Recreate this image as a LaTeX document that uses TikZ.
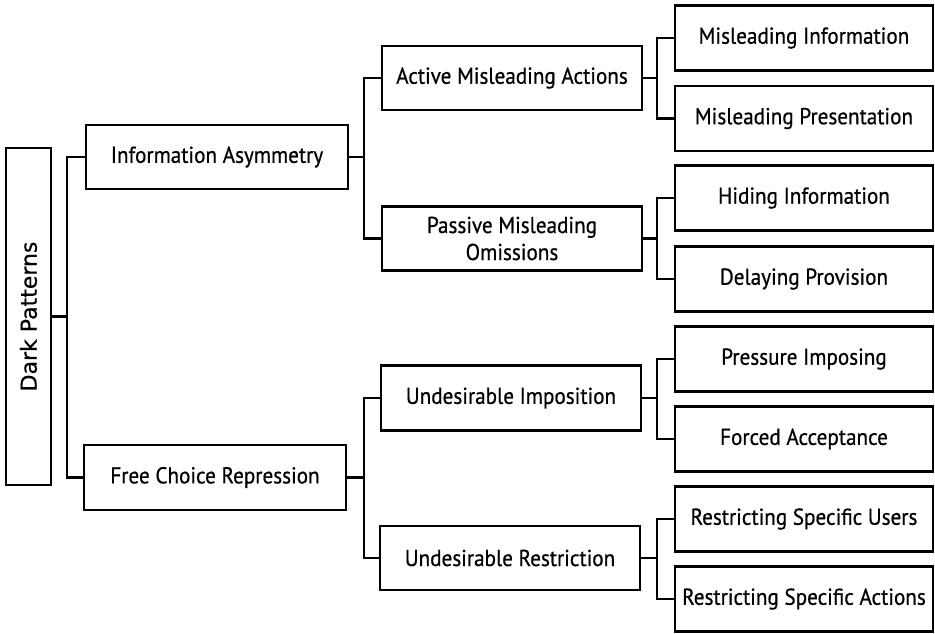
\documentclass[tikz,border=0pt]{standalone}
\usepackage{fontspec}
\setmainfont{PT Sans}[FakeStretch=0.92,FakeBold=0.6]
\newfontfamily\dpfont{DejaVu Sans}[FakeBold=0.5]
\begin{document}
\begin{tikzpicture}[x=1pt,y=-1pt,
  box/.style={draw=black,line width=2.2pt,fill=white,inner sep=0pt,align=center,
    font=\fontsize{23}{27}\selectfont},
  l1box/.style={box,minimum width=262pt,minimum height=64pt},
  l2box/.style={box,minimum width=260pt,minimum height=64pt},
  l3box/.style={box,minimum width=258pt,minimum height=65pt},
  conn/.style={draw=black,line width=2.2pt}]
\useasboundingbox (0,0) rectangle (935,633);
% level 0
\node[box,minimum width=45pt,minimum height=337pt] (DP) at (28.5,316.5) {};
\node[rotate=90,font=\dpfont\fontsize{22}{26}\selectfont] (DPt) at (DP.center) {Dark Patterns};
% level 1
\node[l1box] (IA) at (217,157) {Information Asymmetry};
\node[l1box,minimum height=65pt] (FC) at (215,477.5) {Free Choice Repression};
% level 2
\node[l2box] (AMA) at (512,78) {Active Misleading Actions};
\node[l2box] (PMO) at (512,238.5) {Passive Misleading\\Omissions};
\node[l2box,minimum height=65pt] (UI) at (511,398) {Undesirable Imposition};
\node[l2box] (UR) at (510,558) {Undesirable Restriction};
% level 3
\node[l3box] (MI) at (804,38) {Misleading Information};
\node[l3box] (MP) at (804,118.5) {Misleading Presentation};
\node[l3box] (HI) at (804,198) {Hiding Information};
\node[l3box] (DPv) at (804,279) {Delaying Provision};
\node[l3box] (PI) at (804,359) {Pressure Imposing};
\node[l3box] (FA) at (804,439) {Forced Acceptance};
\node[l3box] (RU) at (804,519) {Restricting Specific Users};
\node[l3box] (RA) at (804,599) {Restricting Specific Actions};
% trunk positions
\coordinate (t1) at (67,0);
\coordinate (t2) at (364,0);
\coordinate (t3) at (657,0);
% connectors
\draw[conn] (DP.east) -- (DP.east -| t1) |- (IA.west);
\draw[conn] (DP.east -| t1) |- (FC.west);
\draw[conn] (IA.east) -- (IA.east -| t2) |- (AMA.west);
\draw[conn] (IA.east -| t2) |- (PMO.west);
\draw[conn] (FC.east) -- (FC.east -| t2) |- (UI.west);
\draw[conn] (FC.east -| t2) |- (UR.west);
\draw[conn] (AMA.east) -- (AMA.east -| t3) |- (MI.west);
\draw[conn] (AMA.east -| t3) |- (MP.west);
\draw[conn] (PMO.east) -- (PMO.east -| t3) |- (HI.west);
\draw[conn] (PMO.east -| t3) |- (DPv.west);
\draw[conn] (UI.east) -- (UI.east -| t3) |- (PI.west);
\draw[conn] (UI.east -| t3) |- (FA.west);
\draw[conn] (UR.east) -- (UR.east -| t3) |- (RU.west);
\draw[conn] (UR.east -| t3) |- (RA.west);
\end{tikzpicture}
\end{document}
